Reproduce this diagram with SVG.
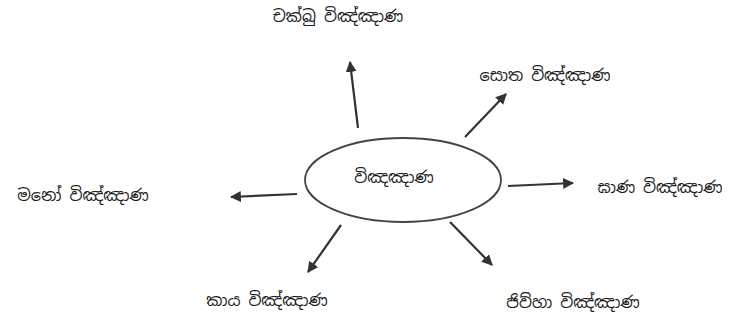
<svg xmlns="http://www.w3.org/2000/svg" width="756" height="322" viewBox="0 0 756 322">
<defs>
<marker id="ah" viewBox="0 0 10 10" refX="9" refY="5" markerWidth="5" markerHeight="5" orient="auto" markerUnits="strokeWidth">
<path d="M0,0 L10,5 L0,10 Z" fill="#333"/>
</marker>
<style>
.lbl{font-family:"Noto Sans Sinhala","Noto Sans","DejaVu Sans",sans-serif;font-size:16px;fill:#1a1a1a;text-anchor:middle}
.c{stroke:#333;stroke-width:2.2;fill:none;marker-end:url(#ah)}
</style>
</defs>
<rect width="756" height="322" fill="#fff"/>
<g id="center">
<ellipse cx="403" cy="180" rx="98" ry="42" fill="none" stroke="#444" stroke-width="1.8"/>
<text class="lbl" x="394" y="183">විඤඤාණ</text>
</g>
<g id="n-cakkhu"><text class="lbl" x="338" y="22">චක්ඛු විඤ්ඤාණ</text></g>
<g id="n-sota"><text class="lbl" x="545" y="81">සොත විඤ්ඤාණ</text></g>
<g id="n-ghana"><text class="lbl" x="660" y="193">ඝාණ විඤ්ඤාණ</text></g>
<g id="n-jivha"><text class="lbl" x="573" y="308">ජිව්හා විඤ්ඤාණ</text></g>
<g id="n-kaya"><text class="lbl" x="267" y="306">කාය විඤ්ඤාණ</text></g>
<g id="n-mano"><text class="lbl" x="83" y="201">මනෝ විඤ්ඤාණ</text></g>
<g id="connectors">
<line class="c" x1="358" y1="128" x2="350" y2="62"/>
<line class="c" x1="465" y1="137" x2="506" y2="94"/>
<line class="c" x1="508" y1="186" x2="573" y2="183"/>
<line class="c" x1="450" y1="222" x2="492" y2="265"/>
<line class="c" x1="341" y1="225" x2="308" y2="272"/>
<line class="c" x1="297" y1="194" x2="231" y2="197"/>
</g>
</svg>
